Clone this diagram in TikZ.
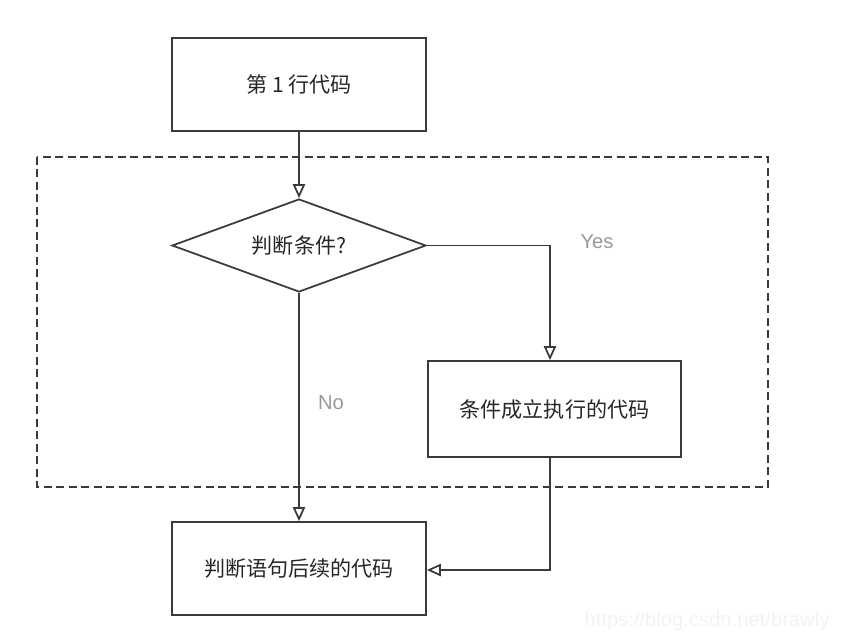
\documentclass[tikz,border=0pt]{standalone}
\usepackage{fontspec}
\setmainfont{Liberation Sans}
\newfontfamily\cjk{Noto Sans CJK SC}
\usetikzlibrary{shapes.geometric,arrows.meta}
\definecolor{linegray}{HTML}{3A3A3A}
\definecolor{labelgray}{HTML}{9A9A9A}

\begin{document}
\begin{tikzpicture}[x=0.02cm, y=-0.02cm,
	box/.style={draw=linegray, line width=1pt, minimum width=5.08cm, minimum height=1.86cm,
		inner sep=0pt, font=\cjk\fontsize{12}{14}\selectfont, text=black!85},
	cond/.style={draw=linegray, line width=1pt, diamond, aspect=2.73, minimum width=5.08cm,
		minimum height=1.86cm, inner sep=0pt, font=\cjk\fontsize{12}{14}\selectfont, text=black!85},
	flow/.style={draw=linegray, line width=1pt, -{Triangle[open, length=8pt, width=7pt]}},
	lbl/.style={text=labelgray, font=\fontsize{11.5}{13}\selectfont}]
	\useasboundingbox (0,0) rectangle (843,640);
	% dashed frame round the branch
	\draw[linegray, line width=1pt, dash pattern=on 4.5pt off 2.6pt] (37,157) rectangle (768,487);
	% nodes
	\node[box] (line1) at (299,84.5) {第 1 行代码};
	\node[cond] (test) at (299,245.5) {判断条件?};
	\node[box, minimum width=5.06cm, minimum height=1.92cm] (then) at (554.5,409) {条件成立执行的代码};
	\node[box] (after) at (299,568.5) {判断语句后续的代码};
	\coordinate (yesturn) at (550,245.5);
	\coordinate (backturn) at (550,570);
	% connectors
	\draw[flow] (line1) -- (test);
	\draw[flow] (test.east) -- (yesturn) -- (yesturn |- then.north);
	\draw[flow] (test.south) -- (after.north);
	\draw[flow] (yesturn |- then.south) -- (backturn) -- (backturn -| after.east);
	% labels
	\node[lbl] (yes) at (597,242) {Yes};
	\node[lbl] (no) at (331,403) {No};
	\node[text=black!5, font=\fontsize{11.5}{13}\selectfont] (mark) at (707,621) {https://blog.csdn.net/brawly};
\end{tikzpicture}
\end{document}
